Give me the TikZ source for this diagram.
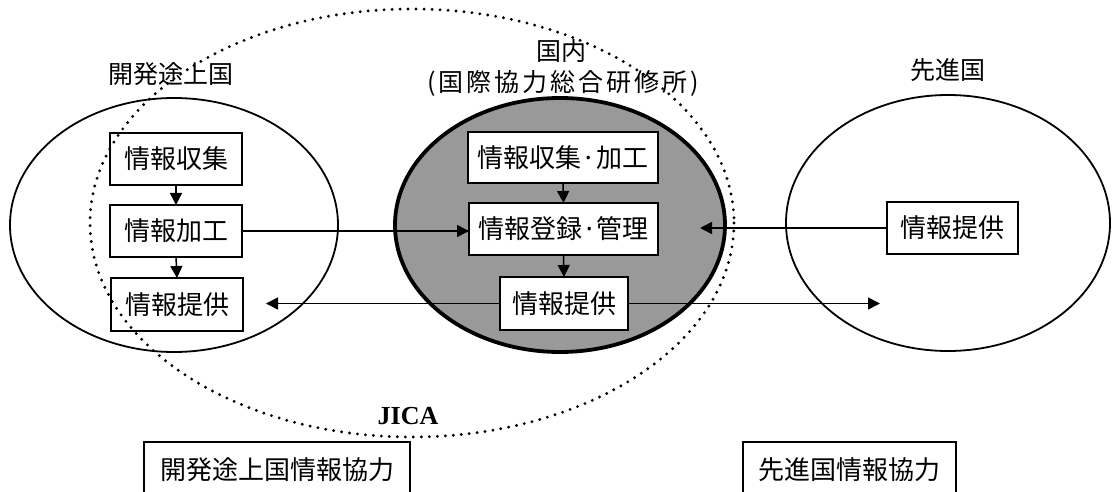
\documentclass[tikz,border=0pt]{standalone}
\usepackage{fontspec}
\setmainfont{Liberation Serif}
\newfontfamily\cjk{Noto Sans CJK JP}
\newfontfamily\cjkwide{Noto Sans CJK JP}[LetterSpace=12]
\usetikzlibrary{arrows.meta}
\begin{document}
\begin{tikzpicture}[x=1pt,y=-1pt,
  box/.style={draw, line width=1.8pt, fill=white, inner sep=0pt, outer sep=0pt,
    anchor=north west, font=\cjk\fontsize{26}{30}\selectfont},
  lab/.style={inner sep=0pt, font=\cjk\fontsize{25}{30}\selectfont},
  region/.style={line width=1.8pt},
  arr/.style={line width=1.5pt, -{Triangle[length=12pt,width=12pt]}},
  jicaline/.style={line width=3.2pt, line cap=round, dash pattern=on 0pt off 8pt}
]
\useasboundingbox (0,0) rectangle (1112,492);
\fill[white] (0,0) rectangle (1112,492);

% regions
\draw[region] (174,225) ellipse [x radius=164, y radius=127];
\draw[region] (948,223) ellipse [x radius=162, y radius=128];
\draw[line width=3.8pt, fill=black!40] (560,225) ellipse [x radius=165, y radius=127];

% region labels
\node[lab] (tdev) at (171,74) {開発途上国};
\node[lab] (tdom) at (561,51) {国内};
\node[inner sep=0pt, font=\cjkwide\fontsize{25}{30}\selectfont] (tinst) at (563,83) {(国際協力総合研修所)};
\node[lab] (tadv) at (948,70) {先進国};
\node[inner sep=0pt, font=\bfseries\fontsize{26}{30}\selectfont] (jica) at (408,416) {JICA};

% left boxes
\node[box, minimum width=132pt, minimum height=52pt] (l1) at (110,133) {情報収集};
\node[box, minimum width=132pt, minimum height=52pt] (l2) at (110,205) {情報加工};
\node[box, minimum width=132pt, minimum height=53pt] (l3) at (111,278) {情報提供};

% centre boxes
\node[box, minimum width=190pt, minimum height=51pt] (c1) at (468,132) {情報収集·加工};
\node[box, minimum width=189pt, minimum height=52pt] (c2) at (469,203) {情報登録·管理};
\node[box, minimum width=128pt, minimum height=53pt] (c3) at (500,277) {情報提供};

% right box
\node[box, minimum width=131pt, minimum height=52pt] (r1) at (887,202) {情報提供};

% bottom boxes
\node[box, minimum width=266pt, minimum height=58pt] (bdev) at (144,442) {\raisebox{4pt}{開発途上国情報協力}};
\node[box, minimum width=213pt, minimum height=58pt] (badv) at (743,442) {\raisebox{4pt}{先進国情報協力}};

% arrows
\draw[arr] (l1.south) -- (l2.north);
\draw[arr] (l2.south) -- (l3.north);
\draw[arr] (c1.south) -- (c2.north);
\draw[arr] (c2.south) -- (c3.north);
\draw[arr] (l2.east) -- (c2.west |- l2.east);
\coordinate (rtip) at (700,228);
\draw[arr] (r1.west) -- (rtip);
\coordinate (ltip) at (266,303.5);
\draw[arr] (c3.west) -- (ltip);
\coordinate (rtip2) at (880,303.5);
\draw[arr] (c3.east) -- (rtip2);

% JICA dotted ellipse
\draw[jicaline] (412,223) ellipse [x radius=322, y radius=214];
\end{tikzpicture}
\end{document}
